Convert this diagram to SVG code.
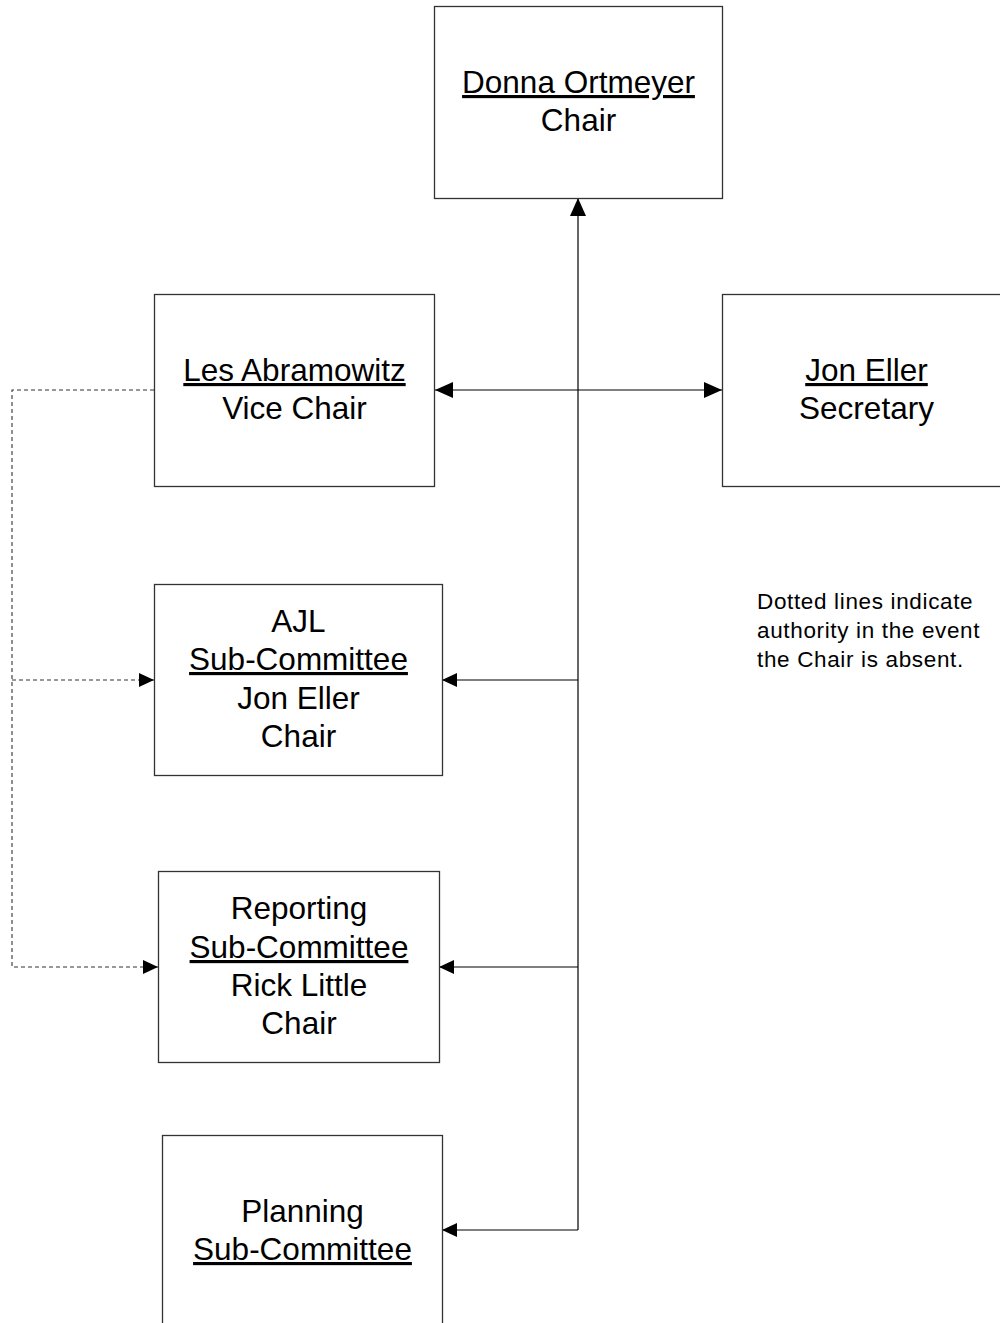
<svg xmlns="http://www.w3.org/2000/svg" width="1000" height="1323" viewBox="0 0 1000 1323">
<style>
.box{fill:#fff;stroke:#333;stroke-width:1.3}
.t{font-family:"Liberation Sans",Arial,sans-serif;font-size:31.5px;fill:#000;text-anchor:middle}
.u{text-decoration:underline}
.n{font-family:"Liberation Sans",Arial,sans-serif;font-size:22.5px;letter-spacing:0.65px;fill:#000}
.ln{fill:none;stroke:#000;stroke-width:1.2}
.dl{fill:none;stroke:#333;stroke-width:1.1;stroke-dasharray:4 3}
</style>
<defs>
<marker id="ah" markerUnits="userSpaceOnUse" markerWidth="18" markerHeight="16" refX="18" refY="8" orient="auto-start-reverse"><path d="M0,0 L18,8 L0,16 Z" fill="#000"/></marker>
<marker id="ahs" markerUnits="userSpaceOnUse" markerWidth="15" markerHeight="14" refX="15" refY="7" orient="auto"><path d="M0,0 L15,7 L0,14 Z" fill="#000"/></marker>
</defs>
<rect x="0" y="0" width="1000" height="1323" fill="#fff"/>
<g id="connectors">
<path class="ln" d="M578,1230 L578,198" marker-end="url(#ah)"/>
<path class="ln" d="M435,390 L722,390" marker-start="url(#ah)" marker-end="url(#ah)"/>
<path class="ln" d="M578,680 L442,680" marker-end="url(#ahs)"/>
<path class="ln" d="M578,967 L439,967" marker-end="url(#ahs)"/>
<path class="ln" d="M578,1230 L442,1230" marker-end="url(#ahs)"/>
<path class="dl" d="M154,390 L12,390 L12,967 L158,967" marker-end="url(#ahs)"/>
<path class="dl" d="M12,680 L154,680" marker-end="url(#ahs)"/>
</g>
<g id="chair">
<rect class="box" x="434.5" y="6.5" width="288" height="192"/>
<text class="t u" x="578.5" y="93">Donna Ortmeyer</text>
<text class="t" x="578.5" y="131">Chair</text>
</g>
<g id="vice-chair">
<rect class="box" x="154.5" y="294.5" width="280" height="192"/>
<text class="t u" x="294.5" y="381">Les Abramowitz</text>
<text class="t" x="294.5" y="419">Vice Chair</text>
</g>
<g id="secretary">
<rect class="box" x="722.5" y="294.5" width="290" height="192"/>
<text class="t u" x="866.5" y="381">Jon Eller</text>
<text class="t" x="866.5" y="419">Secretary</text>
</g>
<g id="ajl">
<rect class="box" x="154.5" y="584.5" width="288" height="191"/>
<text class="t" x="298.5" y="632">AJL</text>
<text class="t u" x="298.5" y="670">Sub-Committee</text>
<text class="t" x="298.5" y="709">Jon Eller</text>
<text class="t" x="298.5" y="747">Chair</text>
</g>
<g id="reporting">
<rect class="box" x="158.5" y="871.5" width="281" height="191"/>
<text class="t" x="299" y="919">Reporting</text>
<text class="t u" x="299" y="958">Sub-Committee</text>
<text class="t" x="299" y="996">Rick Little</text>
<text class="t" x="299" y="1034">Chair</text>
</g>
<g id="planning">
<rect class="box" x="162.5" y="1135.5" width="280" height="200"/>
<text class="t" x="302.5" y="1222">Planning</text>
<text class="t u" x="302.5" y="1260">Sub-Committee</text>
</g>
<g id="note">
<text class="n" x="757" y="609">Dotted lines indicate</text>
<text class="n" x="757" y="638">authority in the event</text>
<text class="n" x="757" y="667">the Chair is absent.</text>
</g>
</svg>
